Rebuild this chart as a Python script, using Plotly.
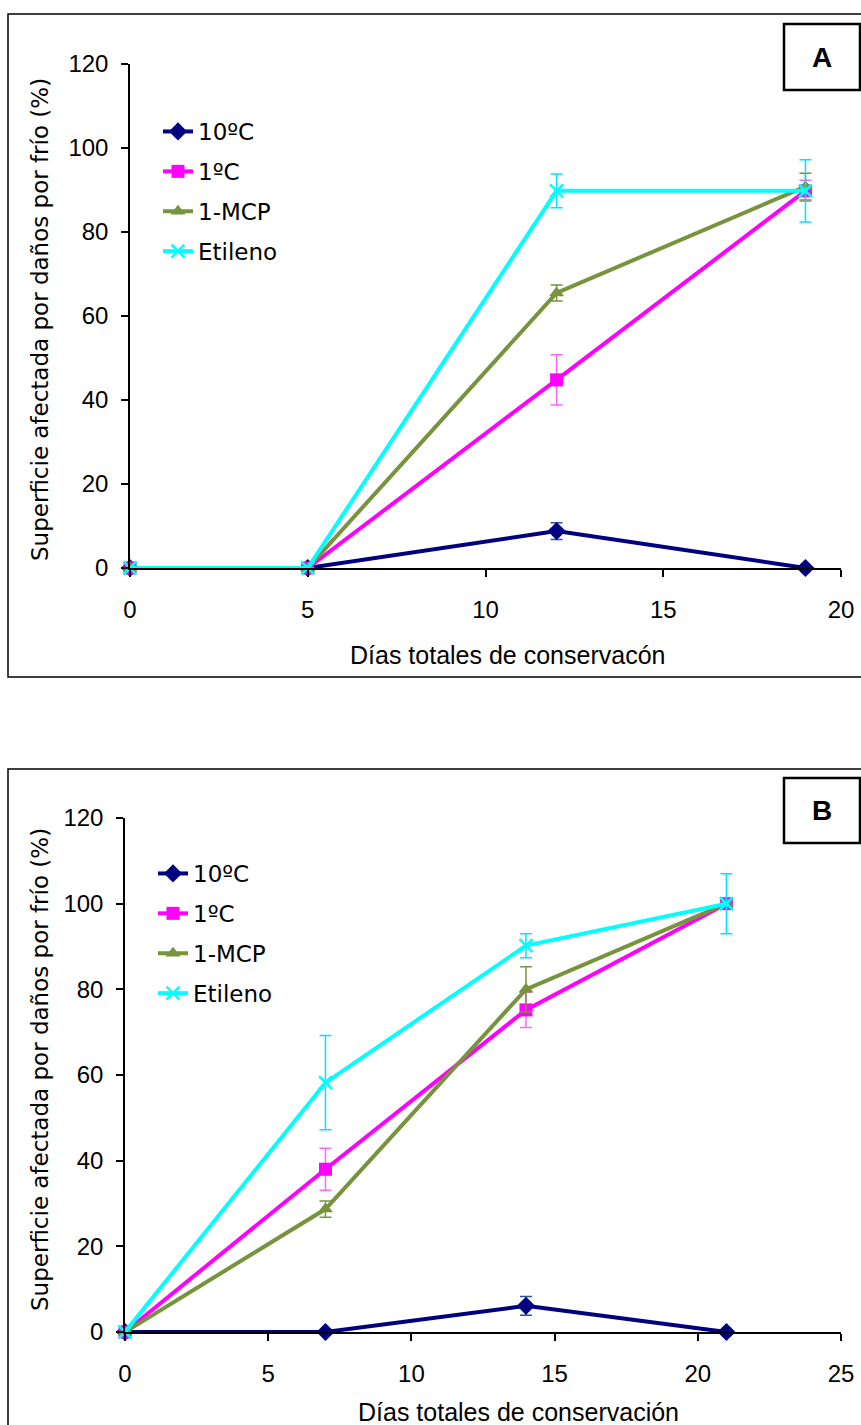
import plotly.graph_objects as go

W, H = 861, 1425

series_names = ["10ºC", "1ºC", "1-MCP", "Etileno"]

# Panel A
days_A = [0, 5, 12, 19]
A_10 = [0, 0, 8.8, 0]
A_10_err = [0, 0, 2.0, 0]
A_1 = [0, 0, 44.8, 89.8]
A_1_err = [0, 0, 6.0, 2.5]
A_mcp = [0, 0, 65.5, 90.8]
A_mcp_err = [0, 0, 1.9, 3.2]
A_eti = [0, 0, 89.8, 89.8]
A_eti_err = [0, 0, 4.0, 7.4]

# Panel B
days_B = [0, 7, 14, 21]
B_10 = [0, 0, 6.1, 0]
B_10_err = [0, 0, 2.2, 0]
B_1 = [0, 38.0, 75.2, 100]
B_1_err = [0, 4.9, 4.1, 1.0]
B_mcp = [0, 28.7, 80.0, 100]
B_mcp_err = [0, 1.9, 5.3, 0.5]
B_eti = [0, 58.2, 90.2, 100]
B_eti_err = [0, 11.0, 2.8, 7.0]

y_ticks = [0, 20, 40, 60, 80, 100, 120]

styles = [
    dict(color="#000080", err="#2F5496", symbol="diamond", size=14),
    dict(color="#FF00FF", err="#FF66FF", symbol="square", size=13),
    dict(color="#77933C", err="#77933C", symbol="triangle-up", size=13),
    dict(color="#00FFFF", err="#00E5FF", symbol="x-thin", size=13),
]

fig = go.Figure()

def add_panel(days, ys, errs, xa, ya, legend):
    for i, (name, y, e) in enumerate(zip(series_names, ys, errs)):
        s = styles[i]
        marker = dict(symbol=s["symbol"], size=s["size"], color=s["color"])
        if s["symbol"] == "x-thin":
            marker["line"] = dict(color=s["color"], width=2.5)
        fig.add_trace(go.Scatter(
            x=days, y=y, name=name, mode="lines+markers",
            line=dict(color=s["color"], width=4),
            marker=marker,
            error_y=dict(type="data", array=e, visible=True, color=s["err"],
                         thickness=1.5, width=6),
            xaxis=xa, yaxis=ya, legend=legend, legendgroup=legend + name,
            cliponaxis=False,
        ))

add_panel(days_A, [A_10, A_1, A_mcp, A_eti], [A_10_err, A_1_err, A_mcp_err, A_eti_err], "x", "y", "legend")
add_panel(days_B, [B_10, B_1, B_mcp, B_eti], [B_10_err, B_1_err, B_mcp_err, B_eti_err], "x2", "y2", "legend2")

def px_x(p):
    return p / W

def px_y(p):
    return 1 - p / H

tick_font = dict(family="Liberation Sans", size=24, color="black")
axis_common = dict(showline=True, linecolor="black", linewidth=1.5, ticks="outside",
                   ticklen=7, tickwidth=1.5, tickcolor="black", showgrid=False,
                   zeroline=False, tickfont=tick_font, automargin=False)

leg_common = dict(font=dict(family="DejaVu Sans", size=23, color="black"),
                  bgcolor="rgba(0,0,0,0)", borderwidth=0, tracegroupgap=7,
                  xanchor="left", yanchor="top", itemclick=False)

fig.update_layout(
    width=W, height=H, margin=dict(l=0, r=0, t=0, b=0, pad=0, autoexpand=False),
    paper_bgcolor="white", plot_bgcolor="white",
    showlegend=True,
    xaxis=dict(domain=[px_x(130), px_x(841)], range=[0, 20], tickvals=[0, 5, 10, 15, 20],
               anchor="y", ticklabelstandoff=12, **axis_common),
    yaxis=dict(domain=[px_y(568), px_y(64)], range=[0, 120], tickvals=y_ticks,
               anchor="x", ticklabelstandoff=8, **axis_common),
    xaxis2=dict(domain=[px_x(125), px_x(841)], range=[0, 25], tickvals=[0, 5, 10, 15, 20, 25],
                anchor="y2", ticklabelstandoff=12, **axis_common),
    yaxis2=dict(domain=[px_y(1332), px_y(818)], range=[0, 120], tickvals=y_ticks,
                anchor="x2", ticklabelstandoff=8, **axis_common),
    legend=dict(x=px_x(158), y=px_y(110), **leg_common),
    legend2=dict(x=px_x(153), y=px_y(852), **leg_common),
)

shapes = [
    dict(type="rect", xref="paper", yref="paper", x0=px_x(8), x1=px_x(870), y0=px_y(677), y1=px_y(14),
         line=dict(color="black", width=1.5), fillcolor="rgba(0,0,0,0)", layer="below"),
    dict(type="rect", xref="paper", yref="paper", x0=px_x(8), x1=px_x(870), y0=px_y(1440), y1=px_y(769),
         line=dict(color="black", width=1.5), fillcolor="rgba(0,0,0,0)", layer="below"),
    dict(type="rect", xref="paper", yref="paper", x0=px_x(784), x1=px_x(860), y0=px_y(90), y1=px_y(24),
         line=dict(color="black", width=2.5), fillcolor="white"),
    dict(type="rect", xref="paper", yref="paper", x0=px_x(784), x1=px_x(860), y0=px_y(843), y1=px_y(778),
         line=dict(color="black", width=2.5), fillcolor="white"),
]
fig.update_layout(shapes=shapes)

ytitle = "Superficie afectada por daños por frío (%)"
title_font = dict(family="DejaVu Sans", size=23, color="black")
xt_font = dict(family="Liberation Sans", size=25, color="black")
annotations = [
    dict(text=ytitle, x=px_x(40), y=px_y(320), xref="paper", yref="paper", textangle=-90,
         showarrow=False, font=title_font, xanchor="center", yanchor="middle"),
    dict(text=ytitle, x=px_x(40), y=px_y(1070), xref="paper", yref="paper", textangle=-90,
         showarrow=False, font=title_font, xanchor="center", yanchor="middle"),
    dict(text="Días totales de conservacón", x=px_x(507), y=px_y(655), xref="paper", yref="paper",
         showarrow=False, font=xt_font, xanchor="center", yanchor="middle"),
    dict(text="Días totales de conservación", x=px_x(518), y=px_y(1412), xref="paper", yref="paper",
         showarrow=False, font=xt_font, xanchor="center", yanchor="middle"),
    dict(text="<b>A</b>", x=px_x(822), y=px_y(57), xref="paper", yref="paper",
         showarrow=False, font=dict(family="Liberation Sans", size=28, color="black"),
         xanchor="center", yanchor="middle"),
    dict(text="<b>B</b>", x=px_x(822), y=px_y(810), xref="paper", yref="paper",
         showarrow=False, font=dict(family="Liberation Sans", size=28, color="black"),
         xanchor="center", yanchor="middle"),
]
fig.update_layout(annotations=annotations)

fig.write_html("out.html",
               post_script="document.body.style.margin='0';document.body.style.overflow='hidden';")
